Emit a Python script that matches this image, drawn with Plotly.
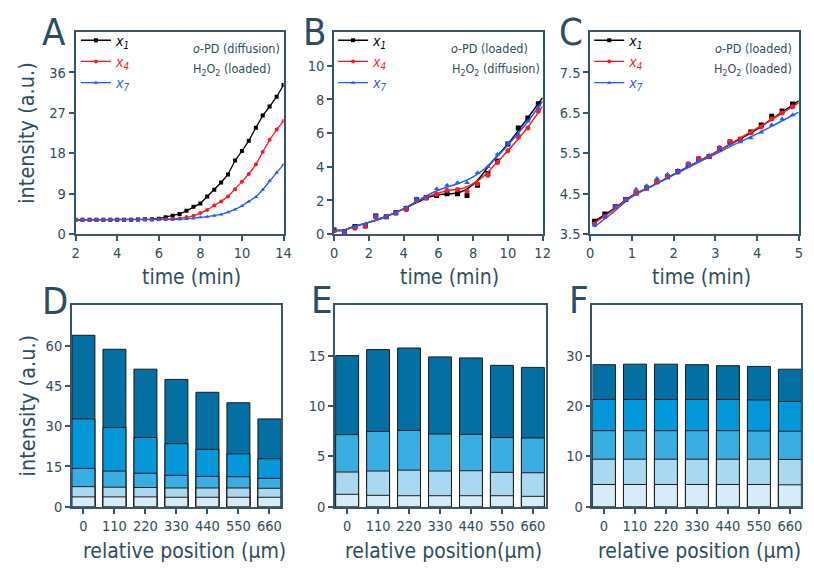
import plotly.graph_objects as go

W, H = 814, 573
FONT = "DejaVu Sans Condensed, Liberation Sans Narrow, sans-serif"
TXT = "#2f4d60"
LINE = "#36566b"
BLACK, RED, BLUE = "#000000", "#ff1a1a", "#1f5cff"

# ---------------- Panel A data ----------------
tA = [2.00, 2.33, 2.67, 3.00, 3.33, 3.67, 4.00, 4.33, 4.67, 5.00, 5.33, 5.67, 6.00, 6.33, 6.67, 7.00,
      7.33, 7.67, 8.00, 8.33, 8.67, 9.00, 9.33, 9.67, 10.00, 10.33, 10.67, 11.00, 11.33, 11.67, 12.00]
A_x1 = [3.2, 3.2, 3.2, 3.2, 3.2, 3.2, 3.2, 3.2, 3.2, 3.25, 3.3, 3.35, 3.45, 3.75, 4.1, 4.5,
        5.2, 6.1, 6.85, 8.4, 9.9, 11.5, 13.3, 16.4, 18.5, 20.8, 23.7, 26.4, 28.4, 30.6, 33.2]
A_x4 = [3.2, 3.2, 3.15, 3.2, 3.2, 3.2, 3.2, 3.2, 3.2, 3.2, 3.25, 3.25, 3.3, 3.35, 3.4, 3.5,
        3.75, 4.1, 4.7, 5.4, 6.4, 7.3, 8.4, 10.0, 11.7, 13.4, 15.5, 18.3, 21.0, 23.3, 25.2]
A_x7 = [3.2, 3.2, 3.2, 3.2, 3.2, 3.2, 3.2, 3.15, 3.15, 3.15, 3.15, 3.2, 3.2, 3.2, 3.25, 3.3,
        3.4, 3.5, 3.75, 3.9, 4.1, 4.4, 4.9, 5.5, 6.3, 7.3, 8.3, 9.9, 11.9, 13.7, 15.5]
A_xticks = [2, 4, 6, 8, 10, 12]
A_xticklabels = ["2", "4", "6", "8", "10", "14"]

# ---------------- Panel B data ----------------
tB = [0.0, 0.6, 1.2, 1.8, 2.4, 3.0, 3.55, 4.15, 4.75, 5.3, 5.9, 6.5, 7.1, 7.65, 8.25,
      8.85, 9.4, 10.0, 10.6, 11.15, 11.75]
B_x1 = [0.25, 0.16, 0.45, 0.5, 1.08, 1.04, 1.27, 1.53, 2.05, 2.17, 2.3, 2.4, 2.4, 2.3, 2.9,
        3.6, 4.35, 5.35, 6.3, 6.9, 7.75]
B_x4 = [0.2, 0.1, 0.35, 0.45, 1.04, 1.04, 1.25, 1.45, 2.0, 2.15, 2.37, 2.6, 2.66, 2.55, 3.0,
        3.5, 4.25, 4.95, 5.75, 6.3, 7.3]
B_x7 = [0.25, 0.15, 0.45, 0.6, 1.1, 1.04, 1.23, 1.58, 2.1, 2.2, 2.7, 2.9, 3.05, 3.05, 3.65,
        4.0, 4.75, 5.38, 5.93, 6.7, 7.5]
tB_fit = [0, 0.5, 1, 2, 3, 4, 5, 5.5, 6, 6.5, 7, 7.5, 8, 8.5, 9, 10, 11, 12]
B_x1_fit = [0.25, 0.22, 0.4, 0.7, 1.05, 1.5, 2.0, 2.22, 2.33, 2.38, 2.43, 2.6, 2.95, 3.5, 4.2, 5.35, 6.7, 8.1]
B_x4_fit = [0.25, 0.22, 0.4, 0.7, 1.05, 1.5, 2.05, 2.27, 2.45, 2.58, 2.65, 2.75, 3.0, 3.35, 3.85, 4.95, 6.15, 7.6]
B_x7_fit = [0.25, 0.22, 0.4, 0.7, 1.05, 1.5, 2.1, 2.38, 2.6, 2.8, 2.95, 3.15, 3.4, 3.75, 4.2, 5.3, 6.5, 7.9]

# ---------------- Panel C data ----------------
tC = [0.10, 0.35, 0.60, 0.85, 1.10, 1.35, 1.60, 1.85, 2.10, 2.35, 2.60, 2.85, 3.10, 3.35,
      3.60, 3.85, 4.10, 4.35, 4.60, 4.85]
C_x1 = [3.82, 4.0, 4.18, 4.36, 4.52, 4.64, 4.8, 4.92, 5.05, 5.22, 5.36, 5.42, 5.62, 5.78,
        5.85, 6.03, 6.2, 6.42, 6.55, 6.72]
C_x4 = [3.75, 3.93, 4.17, 4.36, 4.52, 4.64, 4.8, 4.92, 5.03, 5.24, 5.37, 5.42, 5.64, 5.79,
        5.85, 6.01, 6.15, 6.35, 6.5, 6.65]
C_x7 = [3.72, 3.94, 4.19, 4.37, 4.61, 4.7, 4.88, 4.98, 5.08, 5.22, 5.33, 5.45, 5.62, 5.72,
        5.78, 5.88, 6.02, 6.2, 6.35, 6.45]
tC_fit = [0.1, 0.5, 1.0, 1.5, 2.0, 2.5, 3.0, 3.5, 4.0, 4.5, 5.0]
C_x1_fit = [3.82, 4.08, 4.45, 4.7, 4.98, 5.25, 5.52, 5.8, 6.1, 6.45, 6.8]
C_x4_fit = [3.78, 4.06, 4.45, 4.7, 4.98, 5.25, 5.52, 5.82, 6.12, 6.43, 6.75]
C_x7_fit = [3.68, 4.0, 4.42, 4.7, 4.97, 5.23, 5.48, 5.74, 5.98, 6.25, 6.52]

# ---------------- Bar panels data ----------------
positions = ["0", "110", "220", "330", "440", "550", "660"]
D_t5 = [63.8, 58.6, 51.2, 47.4, 42.6, 38.7, 32.7]
D_t4 = [32.7, 29.5, 25.8, 23.5, 21.4, 19.7, 17.9]
D_t3 = [14.3, 13.3, 12.5, 11.7, 11.3, 11.2, 10.6]
D_t2 = [7.5, 7.3, 7.2, 7.0, 7.0, 7.0, 6.9]
D_t1 = [3.7, 3.7, 3.7, 3.55, 3.55, 3.55, 3.55]
E_t4 = [15.0, 15.6, 15.75, 14.87, 14.77, 14.03, 13.83]
E_t3 = [7.16, 7.48, 7.58, 7.22, 7.19, 6.87, 6.83]
E_t2 = [3.45, 3.55, 3.64, 3.55, 3.58, 3.42, 3.38]
E_t1 = [1.24, 1.14, 1.1, 1.1, 1.1, 1.1, 1.04]
F_t5 = [28.2, 28.3, 28.3, 28.2, 28.0, 27.85, 27.3]
F_t4 = [21.3, 21.3, 21.3, 21.3, 21.3, 21.2, 20.9]
F_t3 = [15.1, 15.1, 15.1, 15.1, 15.1, 15.05, 15.0]
F_t2 = [9.45, 9.45, 9.45, 9.45, 9.45, 9.45, 9.4]
F_t1 = [4.43, 4.43, 4.43, 4.43, 4.43, 4.43, 4.37]

C_DARK, C_BRIGHT, C_MID, C_LIGHT, C_PALE = "#036fa3", "#0497d9", "#3aaee3", "#a9d9f1", "#d6edf9"


def px_x(p):
    return p / W


def px_y(p):
    return 1 - p / H


fig = go.Figure()

names = ['<span style="color:#000000"><i>x<sub>1</sub></i></span>',
         '<span style="color:#ff1a1a"><i>x<sub>4</sub></i></span>',
         '<span style="color:#1f5cff"><i>x<sub>7</sub></i></span>']
cols = [BLACK, RED, BLUE]
syms = ["square", "circle", "triangle-up"]

# Panel A
for ys, nm, c, s in zip([A_x1, A_x4, A_x7], names, cols, syms):
    fig.add_trace(go.Scatter(x=tA, y=ys, mode="lines+markers", name=nm,
                             line=dict(color=c, width=1.3), marker=dict(color=c, size=4, symbol=s),
                             xaxis="x", yaxis="y", legend="legend"))

# Panels B and C: markers + smooth fit lines, legend via proxy traces
for (t, data, tf, fits, ax, ay, lg) in [
        (tB, [B_x1, B_x4, B_x7], tB_fit, [B_x1_fit, B_x4_fit, B_x7_fit], "x2", "y2", "legend2"),
        (tC, [C_x1, C_x4, C_x7], tC_fit, [C_x1_fit, C_x4_fit, C_x7_fit], "x3", "y3", "legend3")]:
    for ys, fy, nm, c, s in zip(data, fits, names, cols, syms):
        fig.add_trace(go.Scatter(x=tf, y=fy, mode="lines", line=dict(color=c, width=1.5, shape="spline"),
                                 showlegend=False, xaxis=ax, yaxis=ay))
        fig.add_trace(go.Scatter(x=t, y=ys, mode="markers", marker=dict(color=c, size=5, symbol=s),
                                 showlegend=False, xaxis=ax, yaxis=ay))
        fig.add_trace(go.Scatter(x=[None], y=[None], mode="lines+markers", name=nm,
                                 line=dict(color=c, width=1.3), marker=dict(color=c, size=4, symbol=s),
                                 xaxis=ax, yaxis=ay, legend=lg))

# Bar panels (overlaid, largest first)
for series, colors, ax, ay in [
        ([D_t5, D_t4, D_t3, D_t2, D_t1], [C_DARK, C_BRIGHT, C_MID, C_LIGHT, C_PALE], "x4", "y4"),
        ([E_t4, E_t3, E_t2, E_t1], [C_DARK, C_MID, C_LIGHT, C_PALE], "x5", "y5"),
        ([F_t5, F_t4, F_t3, F_t2, F_t1], [C_DARK, C_BRIGHT, C_MID, C_LIGHT, C_PALE], "x6", "y6")]:
    for vals, col in zip(series, colors):
        fig.add_trace(go.Bar(x=positions, y=vals, width=0.74, showlegend=False,
                             marker=dict(color=col, line=dict(color="#1c1c1c", width=1)),
                             xaxis=ax, yaxis=ay))

common = dict(showline=True, mirror=True, linecolor=LINE, linewidth=1.7, ticks="outside",
              ticklen=5, tickwidth=1.5, tickcolor=LINE, showgrid=False, zeroline=False,
              tickfont=dict(family=FONT, size=14.5, color=TXT))

top_r = (32.5, 237.5)
bot_r = (309.5, 514)
ydom_top = [px_y(top_r[1]), px_y(top_r[0])]
ydom_bot = [px_y(bot_r[1]), px_y(bot_r[0])]

fig.update_layout(
    width=W, height=H, margin=dict(l=0, r=0, t=0, b=0),
    paper_bgcolor="white", plot_bgcolor="white", barmode="overlay",
    font=dict(family=FONT, color=TXT),
    xaxis=dict(common, domain=[px_x(72.7), px_x(283.7)], anchor="y", range=[2, 12],
               tickvals=A_xticks, ticktext=A_xticklabels),
    yaxis=dict(common, domain=ydom_top, anchor="x", range=[0, 45], tickvals=[0, 9, 18, 27, 36]),
    xaxis2=dict(common, domain=[px_x(335), px_x(546.7)], anchor="y2", range=[0, 12],
                tickvals=[0, 2, 4, 6, 8, 10, 12]),
    yaxis2=dict(common, domain=ydom_top, anchor="x2", range=[0, 12], tickvals=[0, 2, 4, 6, 8, 10]),
    xaxis3=dict(common, domain=[px_x(595), px_x(806.7)], anchor="y3", range=[0, 5],
                tickvals=[0, 1, 2, 3, 4, 5]),
    yaxis3=dict(common, domain=ydom_top, anchor="x3", range=[3.5, 8.5],
                tickvals=[3.5, 4.5, 5.5, 6.5, 7.5], ticktext=["3.5", "4.5", "5.5", "6.5", "7.5"]),
    xaxis4=dict(common, domain=[px_x(69), px_x(281)], anchor="y4", range=[-0.37, 6.37],
                type="category"),
    yaxis4=dict(common, domain=ydom_bot, anchor="x4", range=[0, 75], tickvals=[0, 15, 30, 45, 60]),
    xaxis5=dict(common, domain=[px_x(336), px_x(550)], anchor="y5", range=[-0.39, 6.42],
                type="category"),
    yaxis5=dict(common, domain=ydom_bot, anchor="x5", range=[0, 20], tickvals=[0, 5, 10, 15]),
    xaxis6=dict(common, domain=[px_x(597.3), px_x(809)], anchor="y6", range=[-0.37, 6.36],
                type="category"),
    yaxis6=dict(common, domain=ydom_bot, anchor="x6", range=[0, 40], tickvals=[0, 10, 20, 30]),
)

leg = dict(bgcolor="rgba(0,0,0,0)", font=dict(family=FONT, size=14), itemwidth=30,
           tracegroupgap=0, xanchor="left", yanchor="top", traceorder="normal")
fig.update_layout(
    legend=dict(leg, x=px_x(73), y=px_y(25)),
    legend2=dict(leg, x=px_x(334), y=px_y(25)),
    legend3=dict(leg, x=px_x(594), y=px_y(25)),
)

ann = []


def text(x, y, s, size, xanchor="center", yanchor="middle", angle=0):
    ann.append(dict(x=px_x(x), y=px_y(y), xref="paper", yref="paper", text=s, showarrow=False,
                    xanchor=xanchor, yanchor=yanchor, textangle=angle,
                    font=dict(family=FONT, size=size, color=TXT)))


# panel letters
for L, x, y in [("A", 50.5, 32), ("B", 315, 32), ("C", 575, 32),
                ("D", 51.5, 305), ("E", 322.5, 304), ("F", 583.5, 304)]:
    text(x, y, L, 38)

# inner labels
text(190, 49, "<i>o</i>-PD (diffusion)", 12.5, xanchor="left")
text(190, 70, "H<sub>2</sub>O<sub>2</sub> (loaded)", 12.5, xanchor="left")
text(493, 49, "<i>o</i>-PD (loaded)", 12.5)
text(499, 70, "H<sub>2</sub>O<sub>2</sub> (diffusion)", 12.5)
text(802, 49, "<i>o</i>-PD (loaded)", 12.5, xanchor="right")
text(802, 70, "H<sub>2</sub>O<sub>2</sub> (loaded)", 12.5, xanchor="right")

# axis titles
text(190, 281, "time (min)", 21)
text(452, 281, "time (min)", 21)
text(708, 281, "time (min)", 21)
text(183, 559, "relative position (μm)", 21)
text(446, 559, "relative position(μm)", 21)
text(706, 559, "relative position (μm)", 21)
text(22, 135, "intensity (a.u.)", 21.5, angle=-90)
text(24, 411.5, "intensity (a.u.)", 21.5, angle=-90)

fig.update_layout(annotations=ann)
fig.write_html("out.html", config={"displayModeBar": False},
               post_script="document.body.style.margin='0px';")
